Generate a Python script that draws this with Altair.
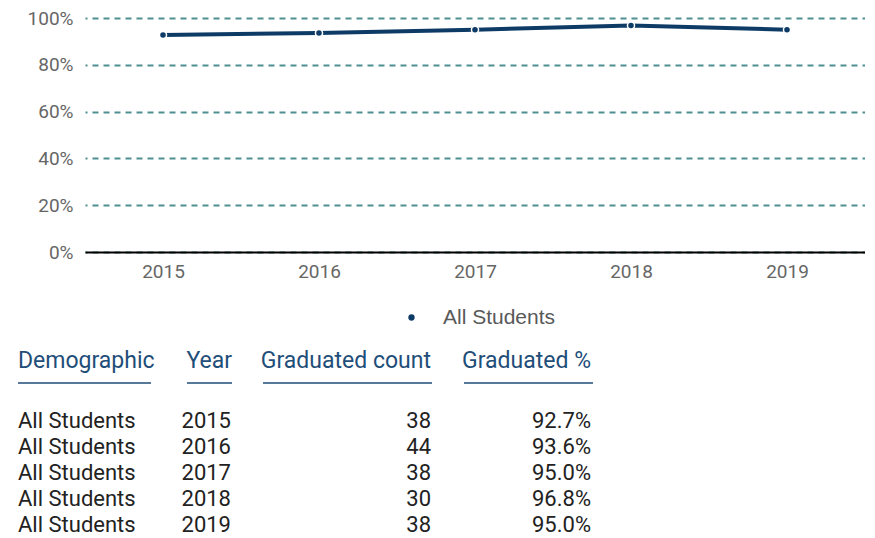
import altair as alt
import pandas as pd

# ---- data ----
years = [2015, 2016, 2017, 2018, 2019]
demographic = ["All Students", "All Students", "All Students", "All Students", "All Students"]
grad_count = [38, 44, 38, 30, 38]
grad_pct = [92.7, 93.6, 95.0, 96.8, 95.0]
headers = ["Demographic", "Year", "Graduated count", "Graduated %"]
y_ticks = [0, 0.2, 0.4, 0.6, 0.8, 1.0]

NAVY = "#0d3b66"
HEAD = "#1f4e79"
GRID = "#4f8f8f"
AXIS_TXT = "#666666"

df = pd.DataFrame({
    "Demographic": demographic,
    "Year": years,
    "Count": grad_count,
    "Pct": grad_pct,
})
hdr = pd.DataFrame({"Header": headers})

base = alt.Chart(df).transform_calculate(rate="datum.Pct / 100")

x_enc = alt.X(
    "Year:O",
    scale=alt.Scale(type="point", padding=0.5),
    axis=alt.Axis(title=None, labelAngle=0, labelColor=AXIS_TXT, labelFont="Roboto",
                  labelFontSize=19, labelPadding=10, ticks=False, domainColor="#000000",
                  domainWidth=2, grid=False),
)
y_enc = alt.Y(
    "rate:Q",
    scale=alt.Scale(domain=[0, 1]),
    axis=alt.Axis(title=None, format="%", values=y_ticks, labelColor=AXIS_TXT,
                  labelFont="Roboto", labelFontSize=19, ticks=False, domain=False,
                  gridColor=GRID, gridDash=[6, 5], gridDashOffset=4, gridWidth=2,
                  labelPadding=12, minExtent=67),
)

line = base.mark_line(strokeWidth=4, color=NAVY).encode(x=x_enc, y=y_enc)
pts = base.mark_point(filled=True, size=50, stroke="white", strokeWidth=1.5, opacity=1).encode(
    x=x_enc, y=y_enc,
    color=alt.Color(
        "Demographic:N", scale=alt.Scale(range=[NAVY]),
        legend=alt.Legend(orient="none", legendX=316, legendY=289, title=None,
                          labelFont="Liberation Sans", labelFontSize=21,
                          labelColor="#595959", labelOffset=21, padding=0,
                          symbolType="circle", symbolSize=40, symbolStrokeWidth=0,
                          symbolFillColor=NAVY),
    ),
)
top = alt.layer(line, pts).properties(width=780, height=234)

# ---- table ----
row_y = alt.Y("Year:O", scale=alt.Scale(type="point", range=[70, 174], padding=0), axis=None)
txt = dict(baseline="middle", font="Roboto", fontSize=22, color="#222222")

t_demo = alt.Chart(df).mark_text(align="left", **txt).encode(
    x=alt.value(-67), y=row_y, text="Demographic:N")
t_year = alt.Chart(df).mark_text(align="right", **txt).encode(
    x=alt.value(146), y=row_y, text="Year:O")
t_count = alt.Chart(df).mark_text(align="right", **txt).encode(
    x=alt.value(346), y=row_y, text="Count:Q")
t_pct = alt.Chart(df).transform_calculate(
    lab="format(datum.Pct, '.1f') + '%'"
).mark_text(align="right", **txt).encode(x=alt.value(506), y=row_y, text="lab:N")

# column layout: (text anchor x, align, underline start, underline end)
col_layout = [(-67, "left", -67, 66), (147, "right", 102, 147),
              (346, "right", 178, 347), (506, "right", 379, 508)]
hdr_layers = []
for h, (tx, al, u1, u2) in zip(headers, col_layout):
    sel = alt.Chart(hdr).transform_filter(alt.datum.Header == h)
    hdr_layers.append(sel.mark_text(align=al, baseline="middle", font="Roboto",
                                    fontSize=23, color=HEAD).encode(
        x=alt.value(tx), y=alt.value(10), text="Header:N"))
    hdr_layers.append(sel.mark_rule(color=HEAD, strokeWidth=1.5).encode(
        x=alt.value(u1), x2=alt.value(u2), y=alt.value(32)))

table = alt.layer(t_demo, t_year, t_count, t_pct, *hdr_layers).properties(width=520, height=185)

chart = alt.vconcat(top, table, spacing=69).properties(
    padding={"left": 9, "top": 1, "right": 0, "bottom": 0}
).configure_view(stroke=None)

chart.save("out.html", embed_options={"renderer": "svg", "actions": False})
